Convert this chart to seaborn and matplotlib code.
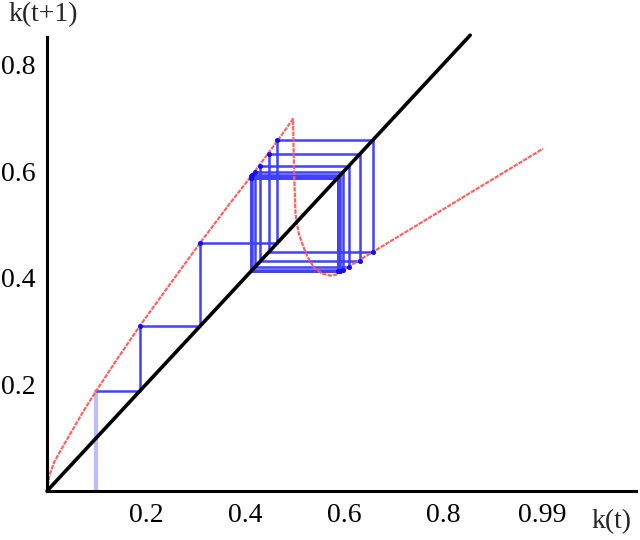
import matplotlib
matplotlib.use("Agg")
import matplotlib.pyplot as plt
import seaborn as sns

# red map k(t) -> k(t+1)
map_k = [0, 0.005, 0.015, 0.030, 0.050, 0.075, 0.099, 0.140, 0.187, 0.250,
         0.309, 0.370, 0.412, 0.449, 0.465, 0.497,
         0.499, 0.502, 0.508, 0.517, 0.527, 0.540, 0.555, 0.572, 0.585,
         0.592, 1.002]
map_next = [0, 0.030, 0.055, 0.080, 0.112, 0.152, 0.187, 0.245, 0.309, 0.390,
            0.465, 0.540, 0.590, 0.636, 0.656, 0.698,
            0.600, 0.520, 0.485, 0.460, 0.438, 0.418, 0.408, 0.404, 0.406,
            0.411, 0.642]

# 45 degree line
diag = [0, 0.855]

# iterates of the cobweb
k_seq = [0.099, 0.187, 0.309, 0.465, 0.659, 0.449, 0.632, 0.431, 0.610, 0.420,
         0.598, 0.415, 0.592, 0.413, 0.590, 0.412, 0.589, 0.412, 0.588, 0.412,
         0.588, 0.412, 0.588]

x_ticks = [0.2, 0.4, 0.6, 0.8, 1.0]
x_labels = ["0.2", "0.4", "0.6", "0.8", "0.99"]
y_ticks = [0.2, 0.4, 0.6, 0.8]
y_labels = ["0.2", "0.4", "0.6", "0.8"]

sns.set_style("white")
plt.rcParams["font.family"] = ["Liberation Serif", "DejaVu Serif"]

fig = plt.figure(figsize=(6.4, 5.4), dpi=100)
ax = fig.add_axes([0, 0, 1, 1])
ax.set_xlim(-0.095, 1.198)
ax.set_ylim(-0.092, 0.921)

# cobweb path
cx = [k_seq[0], k_seq[0]]
cy = [0, k_seq[1]]
wx, wy = [k_seq[0]], [k_seq[1]]
for n in range(1, len(k_seq) - 1):
    wx += [k_seq[n], k_seq[n]]
    wy += [k_seq[n], k_seq[n + 1]]

sns.lineplot(x=cx, y=cy, sort=False, estimator=None, color="#bcbcff", lw=3, ax=ax)
sns.lineplot(x=wx, y=wy, sort=False, estimator=None, color="#2020ff", lw=1.8,
             alpha=0.85, ax=ax)
ax.scatter(k_seq[1:-1], k_seq[2:], s=7, color="#1010ff", zorder=4)

sns.lineplot(x=map_k, y=map_next, sort=False, estimator=None, color="#ff5a5a",
             lw=1.6, alpha=0.95, ls=(0, (2, 0.5)), ax=ax)
sns.lineplot(x=diag, y=diag, sort=False, estimator=None, color="black", lw=2.6, ax=ax)

# axes crossing at origin
for s in ["top", "right"]:
    ax.spines[s].set_visible(False)
ax.spines["left"].set_position(("data", 0))
ax.spines["bottom"].set_position(("data", 0))
ax.spines["left"].set_bounds(0, 0.852)
ax.spines["bottom"].set_bounds(0, 1.19)
for s in ["left", "bottom"]:
    ax.spines[s].set_linewidth(2.2)
    ax.spines[s].set_color("black")

ax.set_xticks(x_ticks, x_labels)
ax.set_yticks(y_ticks, y_labels)
ax.tick_params(axis="both", direction="inout", length=10, width=1.6,
               labelsize=20, colors="black")
ax.tick_params(axis="x", pad=4)
ax.tick_params(axis="y", pad=3)
for i in (0, 3):
    ax.xaxis.get_major_ticks()[i].tick1line.set_color("#888888")

fig.text(43 / 640, 1 - 15 / 540, "k(t+1)", fontsize=20, ha="center", va="center")
fig.text(612 / 640, 1 - 522 / 540, "k(t)", fontsize=20, ha="center", va="center")

fig.savefig("out.png", dpi=100)
